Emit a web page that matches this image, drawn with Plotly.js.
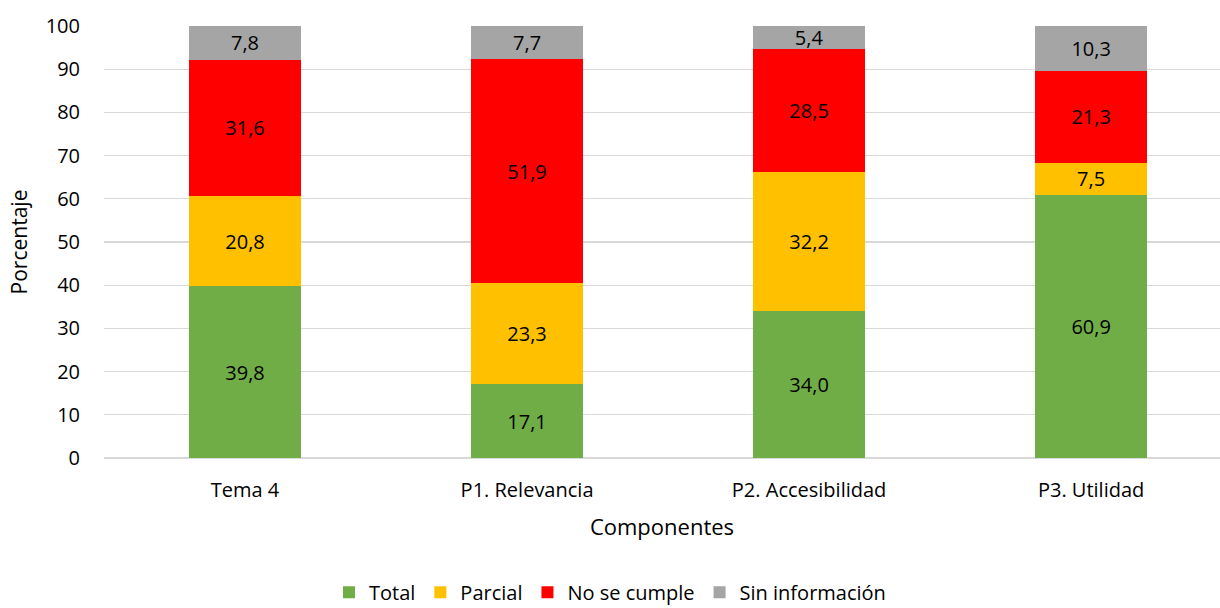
<!DOCTYPE html>
<html>
<head>
<meta charset="utf-8">
<script src="https://cdn.plot.ly/plotly-3.0.1.min.js"></script>
<style>html,body{margin:0;padding:0;background:#fff;}#chart{width:1220px;height:608px;}</style>
</head>
<body>
<div id="chart"></div>
<script>
const categories = ["Tema 4", "P1. Relevancia", "P2. Accesibilidad", "P3. Utilidad"];
const seriesNames = ["Total", "Parcial", "No se cumple", "Sin información"];
const total = [39.8, 17.1, 34.0, 60.9];
const parcial = [20.8, 23.3, 32.2, 7.5];
const noSeCumple = [31.6, 51.9, 28.5, 21.3];
const sinInformacion = [7.8, 7.7, 5.4, 10.3];
const yTicks = [0, 10, 20, 30, 40, 50, 60, 70, 80, 90, 100];

const colors = ["#70AD47", "#FFC000", "#FF0000", "#A5A5A5"];
const values = [total, parcial, noSeCumple, sinInformacion];
const FONT = "'Open Sans', 'Noto Sans', sans-serif";

const traces = values.map((v, i) => ({
  type: "bar",
  name: seriesNames[i],
  x: categories,
  y: v,
  marker: {color: colors[i], line: {width: 0}},
  texttemplate: "%{y:.1f}",
  textposition: "inside",
  insidetextanchor: "middle",
  textangle: 0,
  textfont: {family: FONT, size: 20, color: "#000"},
  constraintext: "none",
  hoverinfo: "x+y+name"
}));

const layout = {
  width: 1220,
  height: 608,
  separators: ",.",
  barmode: "stack",
  bargap: 0.603,
  paper_bgcolor: "#fff",
  plot_bgcolor: "#fff",
  font: {family: FONT, size: 20, color: "#000"},
  margin: {l: 104, r: 0, t: 26, b: 150},
  showlegend: true,
  legend: {
    orientation: "h",
    xref: "container",
    yref: "container",
    x: 0.5,
    xanchor: "center",
    y: 0.026,
    yanchor: "middle",
    font: {family: FONT, size: 20, color: "#000"},
    traceorder: "normal",
    itemwidth: 30
  },
  xaxis: {
    type: "category",
    range: [-0.5, 3.457],
    showgrid: false,
    showline: false,
    ticks: "",
    ticklabelstandoff: 18,
    tickfont: {family: FONT, size: 20, color: "#000"},
    title: {text: "Componentes", font: {family: FONT, size: 22, color: "#000"}, standoff: 17}
  },
  yaxis: {
    range: [0, 100],
    tickvals: yTicks,
    ticktext: yTicks.map(String),
    showgrid: true,
    gridcolor: "#D9D9D9",
    gridwidth: 1.3,
    zeroline: true,
    zerolinecolor: "#D9D9D9",
    zerolinewidth: 1.3,
    showline: false,
    ticks: "",
    ticklabelstandoff: 23,
    tickfont: {family: FONT, size: 20, color: "#000"},
    title: {text: "Porcentaje", font: {family: FONT, size: 21, color: "#000"}, standoff: 12}
  }
};

Plotly.newPlot("chart", traces, layout, {displayModeBar: false, staticPlot: true});
</script>
</body>
</html>
